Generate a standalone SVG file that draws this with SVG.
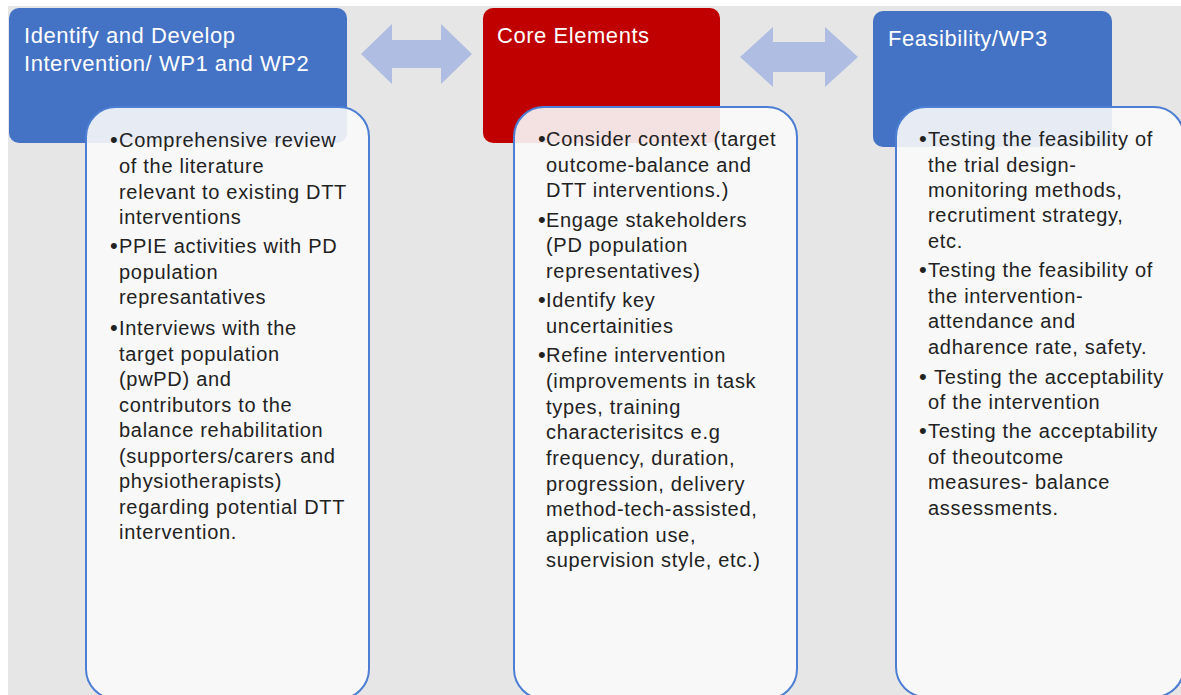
<svg xmlns="http://www.w3.org/2000/svg" width="1181" height="695" viewBox="0 0 1181 695">
<style>
.hdr-blue{fill:#4472C4;}
.hdr-red{fill:#C00000;}
.hdr-text{font-family:"Liberation Sans",Arial,sans-serif;font-size:22px;fill:#ffffff;letter-spacing:0.55px;}
.card{fill:#fafafa;fill-opacity:0.9;stroke:#4C7ED3;stroke-width:2;}
.body{font-family:"Liberation Sans",Arial,sans-serif;font-size:20px;fill:#222222;letter-spacing:0.7px;}
.bul{font-family:"Liberation Sans",Arial,sans-serif;font-size:22px;fill:#222222;}
.arrow{fill:#AEBDE1;}
</style>
<rect x="0" y="0" width="1181" height="695" fill="#ffffff"/>
<rect x="8" y="6" width="1173" height="689" fill="#E6E6E6"/>

<g id="connectors">
<path class="arrow" d="M361,54 L392,24 L392,40 L441,40 L441,24 L472,54 L441,84 L441,68 L392,68 L392,84 Z"/>
<path class="arrow" d="M740,57 L773,27 L773,42 L825,42 L825,27 L858,57 L825,87 L825,72 L773,72 L773,87 Z"/>
</g>

<g id="node-identify">
<rect class="hdr-blue" x="9" y="8" width="338" height="135" rx="10"/>
<text class="hdr-text" x="24" y="43">Identify and Develop</text>
<text class="hdr-text" x="24" y="71">Intervention/ WP1 and WP2</text>
</g>

<g id="node-core">
<rect class="hdr-red" x="483" y="8" width="237" height="135" rx="10"/>
<text class="hdr-text" x="497" y="43">Core Elements</text>
</g>

<g id="node-feasibility">
<rect class="hdr-blue" x="873" y="11" width="239" height="136" rx="10"/>
<text class="hdr-text" x="888" y="46">Feasibility/WP3</text>
</g>

<g id="node-identify-details">
<rect class="card" x="86" y="107" width="283" height="592" rx="30"/>
<g class="body">
<text class="bul" x="110" y="147">•</text><text x="119" y="147">Comprehensive review</text>
<text x="119" y="173">of the literature</text>
<text x="119" y="199">relevant to existing DTT</text>
<text x="119" y="224">interventions</text>
<text class="bul" x="110" y="253">•</text><text x="119" y="253">PPIE activities with PD</text>
<text x="119" y="279">population</text>
<text x="119" y="304">represantatives</text>
<text class="bul" x="110" y="335">•</text><text x="119" y="335">Interviews with the</text>
<text x="119" y="361">target population</text>
<text x="119" y="386">(pwPD) and</text>
<text x="119" y="412">contributors to the</text>
<text x="119" y="437">balance rehabilitation</text>
<text x="119" y="463">(supporters/carers and</text>
<text x="119" y="488">physiotherapists)</text>
<text x="119" y="514">regarding potential DTT</text>
<text x="119" y="539">intervention.</text>
</g>
</g>

<g id="node-core-details">
<rect class="card" x="514" y="107" width="283" height="592" rx="30"/>
<g class="body">
<text class="bul" x="538" y="146">•</text><text x="546" y="146">Consider context (target</text>
<text x="546" y="172">outcome-balance and</text>
<text x="546" y="197">DTT interventions.)</text>
<text class="bul" x="538" y="227">•</text><text x="546" y="227">Engage stakeholders</text>
<text x="546" y="252">(PD population</text>
<text x="546" y="278">representatives)</text>
<text class="bul" x="538" y="307">•</text><text x="546" y="307">Identify key</text>
<text x="546" y="333">uncertainities</text>
<text class="bul" x="538" y="362">•</text><text x="546" y="362">Refine intervention</text>
<text x="546" y="388">(improvements in task</text>
<text x="546" y="414">types, training</text>
<text x="546" y="439">characterisitcs e.g</text>
<text x="546" y="465">frequency, duration,</text>
<text x="546" y="491">progression, delivery</text>
<text x="546" y="516">method-tech-assisted,</text>
<text x="546" y="542">application use,</text>
<text x="546" y="567">supervision style, etc.)</text>
</g>
</g>

<g id="node-feasibility-details">
<rect class="card" x="896" y="107" width="288" height="590" rx="30"/>
<g class="body">
<text class="bul" x="919" y="146">•</text><text x="928" y="146">Testing the feasibility of</text>
<text x="928" y="172">the trial design-</text>
<text x="928" y="197">monitoring methods,</text>
<text x="928" y="222">recrutiment strategy,</text>
<text x="928" y="248">etc.</text>
<text class="bul" x="919" y="277">•</text><text x="928" y="277">Testing the feasibility of</text>
<text x="928" y="303">the intervention-</text>
<text x="928" y="328">attendance and</text>
<text x="928" y="354">adharence rate, safety.</text>
<text class="bul" x="919" y="384">•</text><text x="934" y="384">Testing the acceptability</text>
<text x="928" y="409">of the intervention</text>
<text class="bul" x="919" y="438">•</text><text x="928" y="438">Testing the acceptability</text>
<text x="928" y="464">of theoutcome</text>
<text x="928" y="489">measures- balance</text>
<text x="928" y="515">assessments.</text>
</g>
</g>
</svg>
